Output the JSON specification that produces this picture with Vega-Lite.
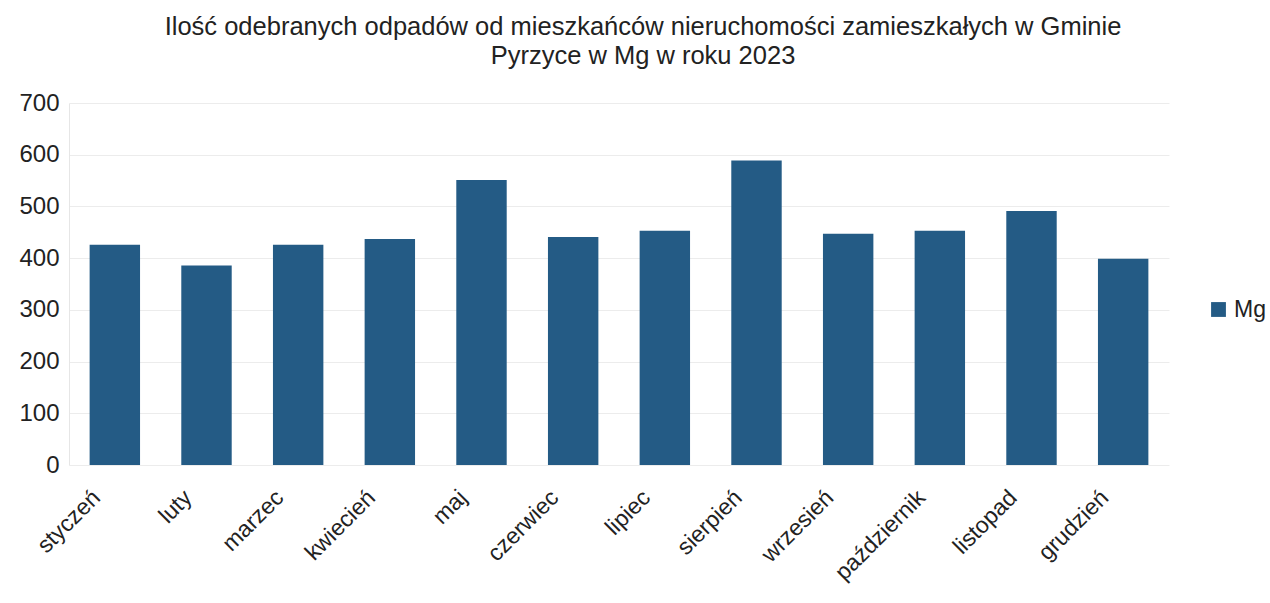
{
  "$schema": "https://vega.github.io/schema/vega-lite/v6.json",
  "autosize": "none",
  "width": 1100,
  "height": 362,
  "padding": {"left": 69, "top": 103, "right": 101, "bottom": 138},
  "background": "white",
  "title": {
    "text": ["Ilość odebranych odpadów od mieszkańców nieruchomości zamieszkałych w Gminie", "Pyrzyce w Mg w roku 2023"],
    "fontSize": 25.5,
    "font": "Liberation Sans",
    "fontWeight": "normal",
    "color": "#222222",
    "anchor": "middle",
    "dx": 24,
    "offset": 22,
    "lineHeight": 29
  },
  "data": {
    "values": [
      {"miesiac": "styczeń", "Mg": 426, "seria": "Mg"},
      {"miesiac": "luty", "Mg": 386, "seria": "Mg"},
      {"miesiac": "marzec", "Mg": 426, "seria": "Mg"},
      {"miesiac": "kwiecień", "Mg": 437, "seria": "Mg"},
      {"miesiac": "maj", "Mg": 551, "seria": "Mg"},
      {"miesiac": "czerwiec", "Mg": 441, "seria": "Mg"},
      {"miesiac": "lipiec", "Mg": 453, "seria": "Mg"},
      {"miesiac": "sierpień", "Mg": 589, "seria": "Mg"},
      {"miesiac": "wrzesień", "Mg": 447, "seria": "Mg"},
      {"miesiac": "październik", "Mg": 453, "seria": "Mg"},
      {"miesiac": "listopad", "Mg": 491, "seria": "Mg"},
      {"miesiac": "grudzień", "Mg": 399, "seria": "Mg"}
    ]
  },
  "mark": {"type": "bar"},
  "encoding": {
    "x": {
      "field": "miesiac",
      "type": "nominal",
      "sort": null,
      "title": null,
      "scale": {"paddingInner": 0.45, "paddingOuter": 0.225},
      "axis": {
        "labelAngle": -45,
        "labelFontSize": 23,
        "labelFont": "Liberation Sans",
        "labelColor": "#222222",
        "ticks": false,
        "domain": false,
        "labelPadding": 21,
        "labelOffset": -26
      }
    },
    "y": {
      "field": "Mg",
      "type": "quantitative",
      "title": null,
      "scale": {"domain": [0, 700]},
      "axis": {
        "values": [0, 100, 200, 300, 400, 500, 600, 700],
        "labelFontSize": 24,
        "labelFont": "Liberation Sans",
        "labelColor": "#222222",
        "ticks": false,
        "domain": true,
        "domainColor": "#e6e6e6",
        "gridColor": "#ececec",
        "labelPadding": 10
      }
    },
    "color": {
      "field": "seria",
      "type": "nominal",
      "scale": {"range": ["#245b85"]},
      "legend": {
        "title": null,
        "orient": "none",
        "legendX": 1138,
        "legendY": 195,
        "symbolType": "square",
        "symbolSize": 220,
        "symbolStrokeWidth": 0,
        "labelFontSize": 23,
        "labelFont": "Liberation Sans",
        "labelColor": "#222222",
        "labelOffset": 4
      }
    }
  },
  "config": {"view": {"stroke": null}}
}
